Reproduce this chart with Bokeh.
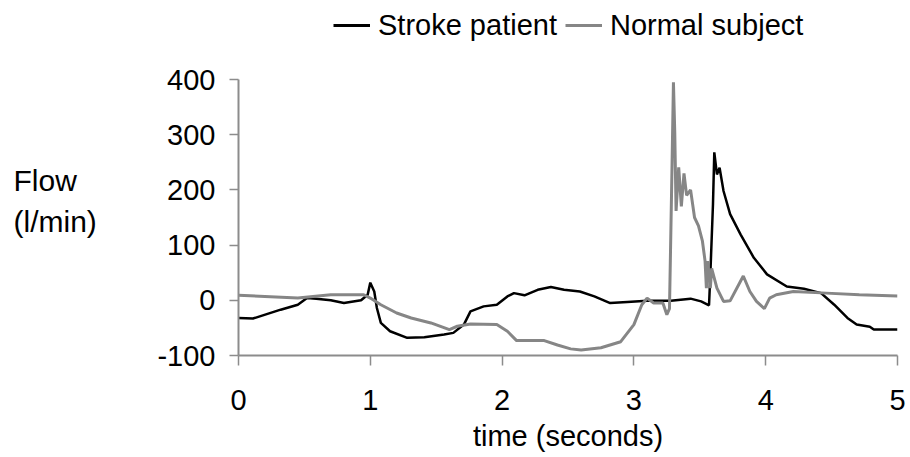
from bokeh.plotting import figure
from bokeh.models import Legend, LegendItem, Label, Range1d, FixedTicker
from bokeh.layouts import column, row
from bokeh.embed import file_html
from bokeh.resources import INLINE

# ---- data ----
stroke_t = [0, 0.11, 0.32, 0.45, 0.52, 0.59, 0.70, 0.80, 0.93, 0.98, 1.00, 1.03, 1.05,
            1.08, 1.15, 1.28, 1.41, 1.56, 1.63, 1.71, 1.76, 1.86, 1.96, 2.04, 2.09, 2.17,
            2.27, 2.37, 2.47, 2.59, 2.70, 2.82, 2.95, 3.10, 3.28, 3.43, 3.51, 3.57, 3.58,
            3.60, 3.61, 3.63, 3.65, 3.68, 3.73, 3.81, 3.91, 4.01, 4.16, 4.29, 4.42, 4.52,
            4.62, 4.69, 4.79, 4.82, 5.0]
stroke_v = [-32, -33, -17, -8, 4, 3, 0, -5, 0, 10, 32, 16, -14,
            -41, -56, -68, -67, -62, -59, -44, -20, -11, -8, 7, 13, 9,
            19, 24, 19, 16, 7, -5, -3, -1, -1, 3, -2, -9, 47,
            174, 268, 228, 240, 198, 156, 119, 77, 47, 25, 21, 13, -8,
            -32, -44, -48, -53, -53]

normal_t = [0, 0.2, 0.45, 0.70, 0.95, 1.0, 1.08, 1.20, 1.31, 1.46, 1.60, 1.66, 1.76,
            1.96, 2.04, 2.11, 2.32, 2.42, 2.52, 2.60, 2.75, 2.90, 3.00, 3.06, 3.10, 3.15,
            3.22, 3.25, 3.27, 3.29, 3.30, 3.31, 3.32, 3.34, 3.36, 3.38, 3.40, 3.43, 3.46,
            3.49, 3.52, 3.54, 3.55, 3.56, 3.58, 3.59, 3.63, 3.68, 3.73, 3.83, 3.88, 3.93,
            3.99, 4.03, 4.08, 4.21, 4.46, 4.71, 5.0]
normal_v = [9, 7, 4, 10, 10, 4, -8, -23, -32, -41, -53, -47, -43,
            -44, -56, -73, -73, -81, -88, -90, -86, -75, -44, -8, 4, -5,
            -5, -26, -15, 253, 395, 305, 162, 241, 170, 230, 190, 200, 150,
            135, 107, 71, 22, 71, 22, 58, 22, -2, -1, 44, 16, -2,
            -15, 4, 10, 16, 13, 10, 8]

series_names = ["Stroke patient", "Normal subject"]
series_colors = ["black", "#868686"]
series_widths = [2.5, 3]
series_t = [stroke_t, normal_t]
series_v = [stroke_v, normal_v]
x_ticks = [0, 1, 2, 3, 4, 5]
y_ticks = [-100, 0, 100, 200, 300, 400]
y_tick_labels = {v: str(v) for v in y_ticks}   # plain hyphen for negatives
y_title_lines = ["Flow", "(l/min)"]

FONT = "Liberation Sans"
FS = "29px"
AXIS_GREY = "#8c8c8c"
TOP_H = 50
LEFT_W = 130
FRAME_W, FRAME_H = 659, 276
BORDER_TOP, BORDER_BOTTOM = 79 - TOP_H, 102
Y_START, Y_END = -100, 400

# ---- legend strip (series drawn out of view so the legend has real glyphs) ----
top = figure(width=910, height=TOP_H, output_backend="svg", toolbar_location=None,
             x_range=Range1d(0, 5), y_range=Range1d(1000, 1001),
             x_axis_type=None, y_axis_type=None, min_border=0)
top.outline_line_color = None
top.grid.visible = False
leg_items = []
for name, col, tt, vv in zip(series_names, series_colors, series_t, series_v):
    r = top.line(tt, vv, line_color=col, line_width=3)
    leg_items.append(LegendItem(label=name, renderers=[r]))
legend = Legend(items=leg_items, orientation="horizontal", location=(333, 8),
                label_text_font=FONT, label_text_font_size=FS,
                label_height=34, glyph_height=34, label_text_color="black",
                glyph_width=37, label_standoff=8, spacing=8,
                border_line_color=None, background_fill_alpha=0,
                margin=0, padding=0)
top.add_layout(legend, "center")

# ---- y-title strip (same vertical frame as the chart, same y scale) ----
side = figure(frame_width=LEFT_W, frame_height=FRAME_H, output_backend="svg",
              toolbar_location=None, x_range=Range1d(0, LEFT_W),
              y_range=Range1d(Y_START, Y_END), x_axis_type=None, y_axis_type=None,
              min_border_left=0, min_border_right=0,
              min_border_top=BORDER_TOP, min_border_bottom=BORDER_BOTTOM)
side.outline_line_color = None
side.grid.visible = False
for txt, yv in zip(y_title_lines, [217, 143]):
    side.add_layout(Label(x=13, y=yv, text=txt, text_font=FONT, text_font_size="30px",
                          text_align="left", text_baseline="middle", text_color="black"))

# ---- main chart ----
p = figure(frame_width=FRAME_W, frame_height=FRAME_H, output_backend="svg",
           toolbar_location=None, x_range=Range1d(0, 5), y_range=Range1d(Y_START, Y_END),
           min_border_left=238 - LEFT_W, min_border_right=13,
           min_border_top=BORDER_TOP, min_border_bottom=BORDER_BOTTOM)
p.outline_line_color = None
p.grid.visible = False

for col, lw, tt, vv in zip(series_colors, series_widths, series_t, series_v):
    p.line(tt, vv, line_color=col, line_width=lw)

for ax in (p.xaxis[0], p.yaxis[0]):
    ax.axis_line_color = AXIS_GREY
    ax.axis_line_width = 2
    ax.major_tick_line_color = AXIS_GREY
    ax.major_tick_line_width = 1.5
    ax.minor_tick_line_color = None
    ax.major_label_text_font = FONT
    ax.major_label_text_font_size = FS
    ax.major_label_text_color = "black"
    ax.axis_label_text_font = FONT
    ax.axis_label_text_font_style = "normal"
    ax.axis_label_text_color = "black"

p.xaxis.ticker = FixedTicker(ticks=x_ticks)
p.yaxis.ticker = FixedTicker(ticks=y_ticks)
p.yaxis.major_label_overrides = y_tick_labels
p.xaxis.major_tick_out = 10
p.xaxis.major_tick_in = 0
p.yaxis.major_tick_out = 9
p.yaxis.major_tick_in = 0
p.xaxis.major_label_standoff = 24
p.yaxis.major_label_standoff = 14

p.xaxis.axis_label = "time (seconds)"
p.xaxis.axis_label_text_font_size = FS
p.xaxis.axis_label_standoff = 7

layout = column(top, row(side, p, spacing=0), spacing=0)
open("out.html", "w").write(file_html(layout, INLINE))
